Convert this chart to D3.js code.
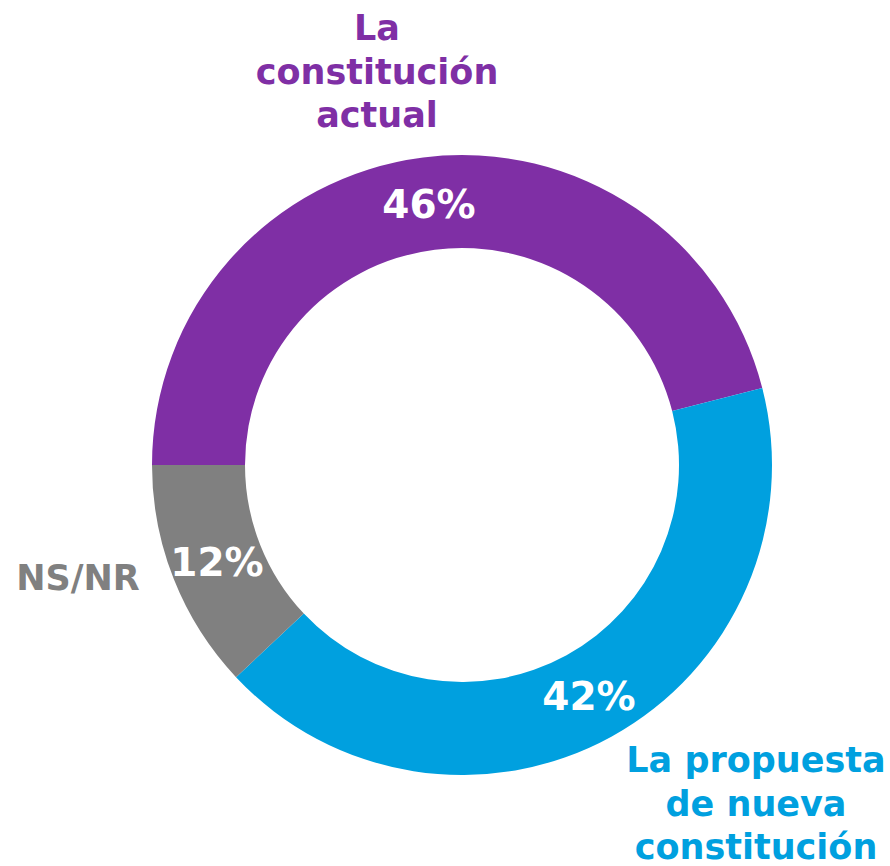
<!DOCTYPE html>
<html>
<head>
<meta charset="utf-8">
<script src="https://cdn.jsdelivr.net/npm/d3@7"></script>
<style>
  body { margin: 0; background: #fff; }
  text { font-family: "DejaVu Sans", "Open Sans", sans-serif; font-weight: bold; }
</style>
</head>
<body>
<script>
var width = 890;
var height = 866;

// datos
var categories = ["La constitución actual", "La propuesta de nueva constitución", "NS/NR"];
var values = [46, 42, 12];
var valueLabels = ["46%", "42%", "12%"];
var colors = ["#7F2FA5", "#00A0DF", "#808080"];

var svg = d3.select("body")
  .append("svg")
  .attr("width", width)
  .attr("height", height);

var cx = 462, cy = 465;
var outerR = 310, innerR = 217;

var g = svg.append("g")
  .attr("transform", "translate(" + cx + "," + cy + ")");

var pie = d3.pie()
  .sort(null)
  .startAngle(-Math.PI / 2)
  .endAngle(Math.PI * 1.5);

var arc = d3.arc()
  .innerRadius(innerR)
  .outerRadius(outerR);

var arcs = pie(values);

g.selectAll(".slice")
  .data(arcs)
  .enter()
  .append("path")
  .attr("class", "slice")
  .attr("d", arc)
  .attr("fill", function (d, i) { return colors[i]; });

// porcentajes
g.selectAll(".pct")
  .data(arcs)
  .enter()
  .append("text")
  .attr("class", "pct")
  .attr("transform", function (d) { return "translate(" + arc.centroid(d) + ")"; })
  .attr("text-anchor", "middle")
  .attr("dy", "0.36em")
  .attr("fill", "#fff")
  .style("font-size", "39px")
  .text(function (d, i) { return valueLabels[i]; });

// etiquetas de categoria
var catLabels = [
  { lines: ["La", "constitución", "actual"], x: 377, y: 40, color: colors[0], size: 35 },
  { lines: ["La propuesta", "de nueva", "constitución"], x: 756, y: 772, color: colors[1], size: 35 },
  { lines: ["NS/NR"], x: 78, y: 590, color: colors[2], size: 35 }
];

catLabels.forEach(function (l) {
  var t = svg.append("text")
    .attr("x", l.x)
    .attr("y", l.y)
    .attr("text-anchor", "middle")
    .attr("fill", l.color)
    .style("font-size", l.size + "px");
  l.lines.forEach(function (s, i) {
    t.append("tspan")
      .attr("x", l.x)
      .attr("dy", i === 0 ? 0 : 43.5)
      .text(s);
  });
});
</script>
</body>
</html>
